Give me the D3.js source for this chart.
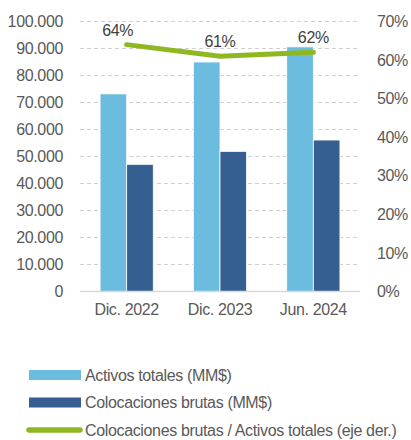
<!DOCTYPE html>
<html>
<head>
<meta charset="utf-8">
<script src="https://cdn.jsdelivr.net/npm/d3@7"></script>
<style>
    body { margin: 0; background: #fff; }
    svg { display: block; font-family: "Liberation Sans", Arial, sans-serif; letter-spacing: -0.35px; }
</style>
</head>
<body>
<svg id="chart" width="411" height="440"></svg>
<script>
const categories = ['Dic. 2022', 'Dic. 2023', 'Jun. 2024'];
const activos = [73200, 85000, 90600];
const colocaciones = [47100, 51900, 56100];
const ratio = [0.64, 0.61, 0.62];
const ratioLabels = ['64%', '61%', '62%'];
const leftTicks = [0, 10000, 20000, 30000, 40000, 50000, 60000, 70000, 80000, 90000, 100000];
const rightTicks = [0, 0.1, 0.2, 0.3, 0.4, 0.5, 0.6, 0.7];
const legendItems = [
    {label: 'Activos totales (MM$)', type: 'bar', color: '#6BBCDF'},
    {label: 'Colocaciones brutas (MM$)', type: 'bar', color: '#355F90'},
    {label: 'Colocaciones brutas / Activos totales (eje der.)', type: 'line', color: '#8FB820'}
];

const svg = d3.select('#chart');
const plotL = 80, plotR = 360, plotT = 21.5, plotB = 291.5;
const textColor = '#595959';
const fontSize = 16;

const es = d3.formatLocale({decimal: ',', thousands: '.', grouping: [3], currency: ['$', '']});
const fmt = es.format(',d');

const x = d3.scaleBand().domain(categories).range([plotL, plotR]).paddingInner(0.43).paddingOuter(0.215);
const xSub = d3.scaleBand().domain(['a', 'c']).range([0, x.bandwidth()]);
const y = d3.scaleLinear().domain([0, 100000]).range([plotB, plotT]);
const y2 = d3.scaleLinear().domain([0, 0.7]).range([plotB, plotT]);

function styleAxis(g) {
    g.attr('font-family', null).attr('font-size', null);
    g.select('.domain').remove();
    g.selectAll('text').attr('fill', textColor).attr('font-size', fontSize);
}

// grid
svg.append('g').selectAll('line')
    .data(leftTicks.slice(1))
    .join('line')
    .attr('x1', plotL).attr('x2', plotR)
    .attr('y1', d => y(d)).attr('y2', d => y(d))
    .attr('stroke', '#d0d0d0')
    .attr('stroke-dasharray', '4,3');

// left axis
svg.append('g')
    .attr('transform', 'translate(63,0)')
    .call(d3.axisLeft(y).tickValues(leftTicks).tickFormat(fmt).tickSize(0).tickPadding(0))
    .call(styleAxis);

// right axis
svg.append('g')
    .attr('transform', 'translate(377,0)')
    .call(d3.axisRight(y2).tickValues(rightTicks).tickFormat(d3.format('.0%')).tickSize(0).tickPadding(0))
    .call(styleAxis);

// bars
const groups = svg.append('g').selectAll('g')
    .data(categories)
    .join('g')
    .attr('transform', d => `translate(${x(d)},0)`);

groups.append('rect')
    .attr('x', xSub('a'))
    .attr('width', xSub.bandwidth())
    .attr('y', (d, i) => y(activos[i]))
    .attr('height', (d, i) => plotB - y(activos[i]))
    .attr('fill', legendItems[0].color)
    .attr('stroke', '#fff').attr('stroke-width', 0.8);

groups.append('rect')
    .attr('x', xSub('c'))
    .attr('width', xSub.bandwidth())
    .attr('y', (d, i) => y(colocaciones[i]))
    .attr('height', (d, i) => plotB - y(colocaciones[i]))
    .attr('fill', legendItems[1].color)
    .attr('stroke', '#fff').attr('stroke-width', 0.8);

// baseline
svg.append('line')
    .attr('x1', plotL).attr('x2', plotR)
    .attr('y1', plotB).attr('y2', plotB)
    .attr('stroke', '#d9d9d9').attr('stroke-width', 1.5);

// x axis labels
svg.append('g')
    .attr('transform', `translate(0,${plotB})`)
    .call(d3.axisBottom(x).tickSize(0).tickPadding(12))
    .call(styleAxis);

// ratio line
const line = d3.line()
    .x((d, i) => x(categories[i]) + x.bandwidth() / 2)
    .y(d => y2(d));

svg.append('path')
    .datum(ratio)
    .attr('d', line)
    .attr('fill', 'none')
    .attr('stroke', legendItems[2].color)
    .attr('stroke-width', 5)
    .attr('stroke-linecap', 'round')
    .attr('stroke-linejoin', 'round');

svg.append('g').selectAll('text')
    .data(ratio)
    .join('text')
    .attr('x', (d, i) => x(categories[i]) + x.bandwidth() / 2 + (i === 0 ? -9 : 0))
    .attr('y', d => y2(d) - 9)
    .attr('text-anchor', 'middle')
    .attr('fill', '#404040')
    .attr('font-size', fontSize)
    .text((d, i) => ratioLabels[i]);

// legend
const legend = svg.append('g').selectAll('g')
    .data(legendItems)
    .join('g')
    .attr('transform', (d, i) => `translate(0,${375 + i * 27.5})`);

legend.filter(d => d.type === 'bar').append('rect')
    .attr('x', 29).attr('y', -5)
    .attr('width', 52).attr('height', 10)
    .attr('fill', d => d.color);

legend.filter(d => d.type === 'line').append('line')
    .attr('x1', 29).attr('x2', 80)
    .attr('y1', 0).attr('y2', 0)
    .attr('stroke', d => d.color)
    .attr('stroke-width', 5.5)
    .attr('stroke-linecap', 'round');

legend.append('text')
    .attr('x', 85).attr('y', 0)
    .attr('dy', '0.35em')
    .attr('fill', textColor)
    .attr('font-size', fontSize)
    .text(d => d.label);
</script>
</body>
</html>
